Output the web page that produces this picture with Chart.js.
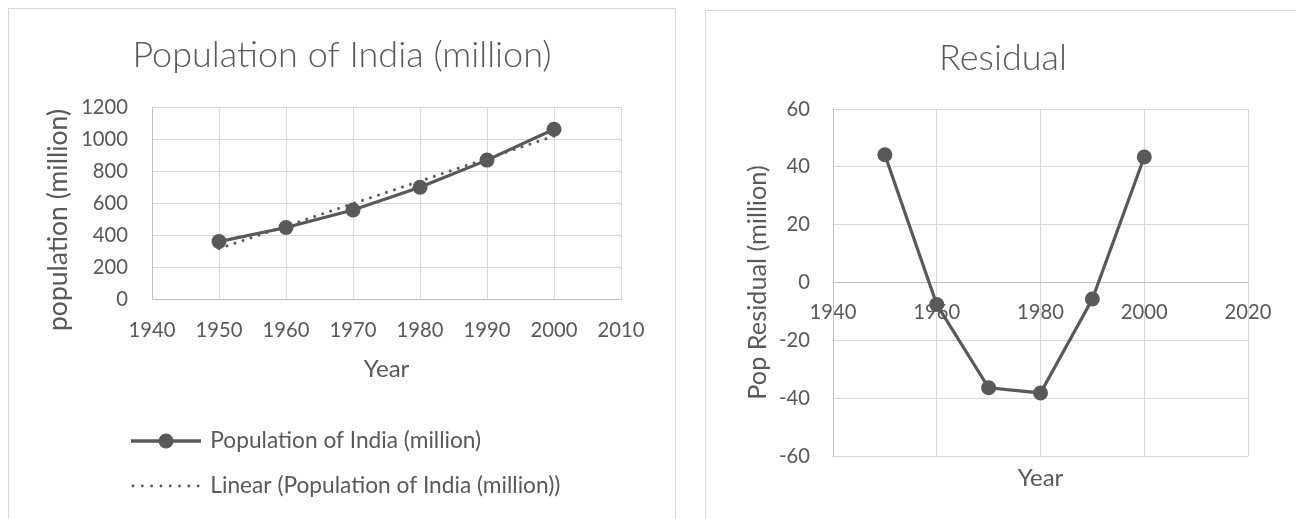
<!DOCTYPE html>
<html>
<head>
<meta charset="utf-8">
<script src="https://cdn.jsdelivr.net/npm/chart.js@4.4.0/dist/chart.umd.min.js"></script>
<style>
  html, body { margin: 0; padding: 0; background: #fff; overflow: hidden; width: 1296px; height: 519px; }
  .panel { position: absolute; border: 1px solid #d9d9d9; background: #fff; }
  #leftPanel { left: 8px; top: 8px; width: 666px; height: 540px; }
  #rightPanel { left: 705px; top: 10px; width: 620px; height: 540px; }
  canvas { position: absolute; left: 0; top: 0; }
</style>
</head>
<body>
<div class="panel" id="leftPanel"><canvas id="popChart" width="666" height="510"></canvas></div>
<div class="panel" id="rightPanel"><canvas id="residChart" width="600" height="508"></canvas></div>
<script>
// ---- data ----
const years = [1950, 1960, 1970, 1980, 1990, 2000];
const population = [359, 447, 556, 698, 868, 1061];          // million
const trendYears = [1950, 2000];
const trendPopulation = [315, 1018];                            // linear trend end points
const residuals = [44.2, -7.6, -36.4, -38.2, -5.7, 43.4];       // million

const popYearTicks = [1940, 1950, 1960, 1970, 1980, 1990, 2000, 2010];
const popValueTicks = [0, 200, 400, 600, 800, 1000, 1200];
const residYearTicks = [1940, 1960, 1980, 2000, 2020];
const residValueTicks = [-60, -40, -20, 0, 20, 40, 60];

// ---- styling ----
const INK = '#595959';
const GRID = '#d9d9d9';
const AXIS = '#bfbfbf';
const FONT = 'Lato, "Open Sans", sans-serif';
const TICK_FONT = { family: FONT, size: 20.2 };
const LEGEND_FONT = { family: FONT, size: 22.7 };
const TITLE_FONT = { family: FONT, size: 36, weight: 300 };

const pts = (xs, ys) => xs.map((x, i) => ({ x, y: ys[i] }));
const step = arr => arr[1] - arr[0];
const plain = v => String(v);

// small legend glyphs: solid line with marker, and a dotted line
function swatch(kind) {
  const c = document.createElement('canvas');
  c.width = 70; c.height = 18;
  const g = c.getContext('2d');
  g.strokeStyle = INK; g.fillStyle = INK;
  if (kind === 'dotted') {
    g.lineWidth = 2.8; g.lineCap = 'round';
    g.setLineDash([0.01, 9.3]);
    g.beginPath(); g.moveTo(2, 9); g.lineTo(69, 9); g.stroke();
  } else {
    g.lineWidth = 3.5;
    g.beginPath(); g.moveTo(0, 9); g.lineTo(70, 9); g.stroke();
    g.beginPath(); g.arc(35, 9, 7.5, 0, Math.PI * 2); g.fill();
  }
  return c;
}
const swatches = [swatch('marker'), swatch('dotted')];

// moves the legend block sideways after layout, independent of the y axis box
const legendNudge = {
  id: 'legendNudge',
  afterLayout(chart, args, opts) {
    const lg = chart.legend;
    if (lg && opts.dx) { lg.left += opts.dx; lg.right += opts.dx; }
  }
};

// centres the y axis title on the plot plus the x tick label band
const yTitleShift = {
  id: 'yTitleShift',
  afterLayout(chart, args, opts) {
    const s = chart.scales.y;
    if (!s || !opts.dy || s._shiftedTitle) return;
    const draw = s.drawTitle;
    s.drawTitle = function () {
      const ctx = this.ctx;
      ctx.save();
      ctx.translate(0, opts.dy);
      draw.call(this);
      ctx.restore();
    };
    s._shiftedTitle = true;
  }
};

// ---- population chart ----
new Chart(document.getElementById('popChart'), {
  type: 'scatter',
  plugins: [legendNudge, yTitleShift],
  data: {
    datasets: [
      {
        label: 'Population of India (million)',
        data: pts(years, population),
        showLine: true,
        borderColor: INK,
        backgroundColor: INK,
        borderWidth: 3.2,
        pointRadius: 7.5,
        pointBorderWidth: 0,
        pointBackgroundColor: INK,
        order: 1
      },
      {
        label: 'Linear (Population of India (million))',
        data: pts(trendYears, trendPopulation),
        showLine: true,
        borderColor: INK,
        borderWidth: 3,
        borderDash: [0.01, 8.4],
        borderCapStyle: 'round',
        pointRadius: 0,
        order: 0
      }
    ]
  },
  options: {
    responsive: false,
    animation: false,
    events: [],
    layout: { padding: { left: 54, right: 54, top: 0, bottom: 11.65 } },
    plugins: {
      legendNudge: { dx: 47.7 },
      yTitleShift: { dy: 17 },
      title: {
        display: true,
        text: 'Population of India (million)',
        color: INK,
        font: TITLE_FONT,
        padding: { top: 24.4, bottom: 30.4 }
      },
      legend: {
        position: 'bottom',
        align: 'start',
        labels: {
          usePointStyle: true,
          pointStyleWidth: 66,
          padding: 22.3,
          color: INK,
          font: LEGEND_FONT,
          generateLabels: chart => chart.data.datasets.map((ds, i) => ({
            text: ds.label,
            pointStyle: swatches[i],
            datasetIndex: i,
            hidden: false,
            fontColor: INK,
            fillStyle: INK,
            strokeStyle: INK,
            lineWidth: 0
          }))
        }
      },
      tooltip: { enabled: false }
    },
    scales: {
      x: {
        type: 'linear',
        min: popYearTicks[0],
        max: popYearTicks[popYearTicks.length - 1],
        ticks: { stepSize: step(popYearTicks), padding: 18.9, color: INK, font: TICK_FONT, callback: plain, autoSkip: false, maxRotation: 0 },
        grid: { color: GRID, drawTicks: false },
        border: { color: AXIS },
        title: { display: true, text: 'Year', color: INK, font: { family: FONT, size: 24 }, padding: { top: 0, bottom: 23.6 } },
        afterFit(s) { s.height = 108.35; }
      },
      y: {
        type: 'linear',
        min: popValueTicks[0],
        max: popValueTicks[popValueTicks.length - 1],
        ticks: { stepSize: step(popValueTicks), padding: 24, color: INK, font: TICK_FONT, callback: plain },
        grid: { color: GRID, drawTicks: false },
        border: { color: AXIS },
        title: { display: true, text: 'population (million)', color: INK, font: { family: FONT, size: 26.5 }, padding: { top: -20.9, bottom: 0 } },
        afterFit(s) { s.width = 89; }
      }
    }
  }
});

// ---- residual chart ----
new Chart(document.getElementById('residChart'), {
  type: 'scatter',
  data: {
    datasets: [{
      label: 'Pop Residual (million)',
      data: pts(years, residuals),
      showLine: true,
      borderColor: INK,
      backgroundColor: INK,
      borderWidth: 3.2,
      pointRadius: 7.5,
      pointBorderWidth: 0,
      pointBackgroundColor: INK
    }]
  },
  options: {
    responsive: false,
    animation: false,
    events: [],
    layout: { padding: { left: 52, right: 58, top: 0, bottom: 63 } },
    plugins: {
      title: {
        display: true,
        text: 'Residual',
        color: INK,
        font: TITLE_FONT,
        padding: { top: 25.4, bottom: 29.4 }
      },
      legend: { display: false },
      tooltip: { enabled: false }
    },
    scales: {
      x: {
        type: 'linear',
        position: { y: 0 },
        min: residYearTicks[0],
        max: residYearTicks[residYearTicks.length - 1],
        ticks: { stepSize: step(residYearTicks), padding: 17.9, color: INK, font: TICK_FONT, callback: plain, autoSkip: false, maxRotation: 0 },
        grid: { color: GRID, drawTicks: false },
        border: { color: AXIS },
        title: { display: true, text: 'Year', color: INK, font: { family: FONT, size: 24 }, padding: { top: 0, bottom: 10.3 } },
        afterFit(s) { s.height = 220; }
      },
      y: {
        type: 'linear',
        min: residValueTicks[0],
        max: residValueTicks[residValueTicks.length - 1],
        ticks: { stepSize: step(residValueTicks), padding: 23, color: INK, font: TICK_FONT, callback: plain },
        grid: { color: GRID, drawTicks: false },
        border: { color: AXIS },
        title: { display: true, text: 'Pop Residual (million)', color: INK, font: { family: FONT, size: 25.3 }, padding: { top: -15.2, bottom: 0 } },
        afterFit(s) { s.width = 75; }
      }
    }
  }
});
</script>
</body>
</html>
